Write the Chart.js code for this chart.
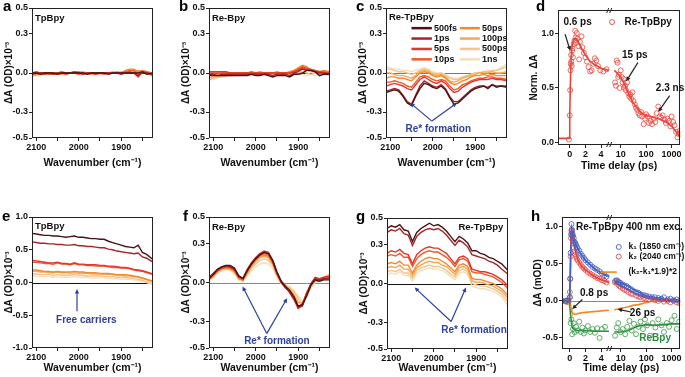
<!DOCTYPE html>
<html>
<head>
<meta charset="utf-8">
<script src="https://cdn.jsdelivr.net/npm/chart.js@4.4.1/dist/chart.umd.min.js"></script>
<style>
  body { margin: 0; background: #fff; }
  #fig { position: relative; width: 685px; height: 377px; overflow: hidden; font-family: 'Liberation Sans', Arial, sans-serif; }
  #fig canvas { position: absolute; }
  .tag { position: absolute; font-weight: bold; font-size: 15px; line-height: 15px; color: #000; }
</style>
</head>
<body>
<div id="fig">
  <canvas id="chartA" width="160" height="172" style="left:0;top:0"></canvas>
  <canvas id="chartB" width="160" height="172" style="left:177px;top:0"></canvas>
  <canvas id="chartC" width="160" height="172" style="left:354px;top:0"></canvas>
  <canvas id="chartD" width="160" height="175" style="left:525px;top:0"></canvas>
  <canvas id="chartE" width="160" height="168" style="left:0;top:209px"></canvas>
  <canvas id="chartF" width="160" height="168" style="left:177px;top:209px"></canvas>
  <canvas id="chartG" width="160" height="167" style="left:355px;top:210px"></canvas>
  <canvas id="chartH" width="156" height="168" style="left:529px;top:209px"></canvas>
  <div class="tag" style="left:3px;top:-2px">a</div>
  <div class="tag" style="left:179px;top:-2px">b</div>
  <div class="tag" style="left:356px;top:-2px">c</div>
  <div class="tag" style="left:536px;top:-2px">d</div>
  <div class="tag" style="left:2px;top:208px">e</div>
  <div class="tag" style="left:183px;top:208px">f</div>
  <div class="tag" style="left:356px;top:208px">g</div>
  <div class="tag" style="left:531px;top:208px">h</div>
</div>
<script>
// ---- spectra (panels a, b, c, e, f, g) ----
const wavenumbers = [2110, 2100, 2090, 2080, 2070, 2060, 2050, 2040, 2030, 2020, 2010, 2000, 1990, 1980, 1970,
  1960, 1950, 1940, 1930, 1920, 1910, 1900, 1890, 1880, 1870, 1860, 1850, 1840, 1825];
const wavenumberTicks = [2100, 2050, 2000, 1950, 1900, 1850];
const delays = ['500fs', '1ps', '5ps', '10ps', '50ps', '100ps', '500ps', '1ns'];
const delayColors = ['#4a1315', '#a3262b', '#e5342d', '#f05a28', '#f5892a', '#f7a752', '#f2c48e', '#f6dfb6'];

const tpBpyVisible = [
  [0.00, 0.00, -0.01, 0.00, 0.00, 0.00, -0.01, 0.00, 0.00, 0.00, 0.00, 0.00, 0.00, -0.01, 0.00, 0.00, 0.00, 0.00, -0.01, 0.00, 0.00, 0.00, 0.00, 0.00, 0.00, 0.00, 0.01, -0.01, 0.00],
  [-0.01, 0.00, 0.00, 0.00, 0.00, -0.01, 0.00, 0.00, 0.00, 0.00, 0.00, 0.00, -0.01, 0.00, 0.00, 0.00, 0.00, 0.00, 0.00, 0.00, 0.00, -0.01, 0.00, 0.00, 0.00, -0.02, 0.00, 0.00, -0.01],
  [0.00, 0.01, 0.00, -0.01, 0.00, 0.00, 0.00, 0.00, -0.01, 0.00, 0.01, 0.00, 0.00, 0.00, 0.00, -0.01, 0.00, 0.00, 0.00, 0.00, 0.00, 0.00, 0.00, 0.01, 0.00, -0.03, 0.01, 0.00, -0.01],
  [-0.01, 0.00, 0.00, 0.00, -0.01, 0.00, 0.00, 0.01, 0.00, 0.00, 0.00, -0.01, 0.00, 0.00, 0.00, 0.00, 0.00, -0.01, 0.00, 0.00, 0.00, 0.00, 0.01, 0.02, 0.02, -0.01, 0.01, 0.01, -0.02],
  [0.00, -0.01, 0.00, 0.00, 0.00, 0.00, -0.01, 0.00, 0.00, 0.00, 0.01, 0.01, 0.00, 0.00, -0.01, 0.00, 0.00, 0.00, 0.00, 0.00, 0.01, 0.00, 0.02, 0.03, 0.03, 0.01, 0.02, 0.01, 0.00],
  [-0.02, -0.01, -0.01, 0.00, -0.01, -0.01, 0.00, -0.01, 0.00, 0.00, 0.01, 0.00, 0.01, 0.00, 0.00, -0.01, 0.00, 0.00, 0.00, 0.01, 0.00, 0.01, 0.00, 0.02, 0.01, 0.02, 0.01, 0.00, -0.02],
  [-0.02, -0.02, -0.01, -0.01, -0.01, 0.00, -0.01, 0.00, -0.01, 0.00, 0.00, 0.01, 0.00, 0.00, -0.01, 0.00, -0.01, 0.00, 0.00, 0.00, 0.00, 0.00, 0.01, 0.01, 0.00, 0.01, 0.02, 0.01, -0.02],
  [-0.03, -0.02, -0.02, -0.01, -0.01, -0.01, -0.01, 0.00, -0.01, 0.00, 0.00, 0.00, 0.00, -0.01, 0.00, 0.00, -0.01, 0.00, 0.00, 0.00, 0.00, 0.00, 0.00, 0.00, 0.01, 0.00, 0.01, 0.00, -0.03]
];
const reBpyVisible = [
  [-0.02, -0.02, -0.02, -0.02, -0.02, -0.02, -0.02, -0.02, -0.02, -0.02, -0.01, -0.02, -0.02, -0.01, -0.02, -0.03, -0.02, -0.02, -0.02, -0.03, -0.01, -0.01, 0.00, 0.02, 0.02, 0.01, -0.02, -0.01, -0.01],
  [-0.01, -0.01, -0.02, -0.01, -0.01, -0.01, -0.01, -0.01, -0.01, -0.01, -0.01, -0.01, -0.01, -0.01, -0.01, -0.02, -0.01, -0.01, -0.01, -0.02, 0.00, 0.01, 0.03, 0.02, 0.02, 0.01, 0.00, 0.00, -0.01],
  [0.01, 0.01, 0.01, 0.01, 0.01, 0.00, 0.00, 0.00, 0.00, 0.00, 0.00, 0.00, 0.00, 0.00, 0.00, 0.00, 0.00, 0.00, 0.00, 0.00, 0.01, 0.02, 0.04, 0.03, 0.02, 0.01, 0.01, 0.00, 0.00],
  [0.00, 0.00, 0.00, 0.00, 0.00, 0.00, 0.00, 0.00, 0.00, 0.00, 0.01, 0.00, 0.00, 0.00, 0.00, 0.00, 0.00, 0.00, 0.00, 0.00, 0.01, 0.03, 0.05, 0.04, 0.03, 0.02, 0.01, 0.01, 0.00],
  [-0.02, -0.01, -0.01, 0.00, 0.00, 0.00, 0.00, 0.00, 0.00, 0.00, 0.00, 0.00, 0.01, 0.00, 0.00, 0.00, 0.01, 0.00, 0.00, 0.01, 0.02, 0.04, 0.06, 0.05, 0.02, 0.02, 0.01, 0.02, 0.01],
  [-0.04, -0.03, -0.03, -0.02, -0.02, -0.01, -0.01, -0.01, -0.01, 0.00, 0.00, 0.00, 0.00, 0.00, 0.00, 0.00, 0.00, 0.00, 0.00, 0.00, 0.01, 0.02, 0.03, 0.02, 0.01, 0.01, 0.00, 0.01, 0.00],
  [-0.05, -0.04, -0.03, -0.03, -0.02, -0.02, -0.02, -0.01, -0.01, -0.01, -0.01, -0.01, 0.00, -0.01, 0.00, -0.01, 0.00, -0.01, 0.00, -0.01, 0.00, 0.00, 0.01, 0.00, -0.01, 0.00, -0.01, 0.00, -0.01],
  [-0.05, -0.05, -0.04, -0.03, -0.03, -0.02, -0.02, -0.02, -0.01, -0.01, -0.01, -0.01, -0.01, -0.01, -0.01, -0.01, -0.01, -0.01, -0.01, -0.01, -0.01, -0.01, -0.01, -0.02, -0.01, -0.02, -0.01, -0.01, -0.02]
];
const reTpBpyVisible = [
  [-0.15, -0.14, -0.13, -0.14, -0.18, -0.23, -0.25, -0.18, -0.12, -0.08, -0.09, -0.11, -0.12, -0.10, -0.13, -0.19, -0.24, -0.23, -0.20, -0.17, -0.14, -0.12, -0.11, -0.10, -0.12, -0.09, -0.11, -0.10, -0.11],
  [-0.14, -0.13, -0.12, -0.13, -0.17, -0.22, -0.24, -0.17, -0.10, -0.06, -0.08, -0.10, -0.11, -0.09, -0.12, -0.18, -0.22, -0.22, -0.19, -0.16, -0.13, -0.11, -0.10, -0.10, -0.11, -0.09, -0.10, -0.10, -0.10],
  [-0.10, -0.09, -0.08, -0.09, -0.10, -0.12, -0.13, -0.09, -0.05, -0.03, -0.05, -0.07, -0.08, -0.06, -0.08, -0.12, -0.15, -0.14, -0.11, -0.09, -0.07, -0.06, -0.05, -0.05, -0.05, -0.04, -0.05, -0.05, -0.06],
  [-0.07, -0.07, -0.06, -0.07, -0.08, -0.10, -0.11, -0.07, -0.03, -0.02, -0.03, -0.05, -0.06, -0.05, -0.06, -0.10, -0.13, -0.12, -0.09, -0.08, -0.06, -0.05, -0.04, -0.04, -0.03, -0.03, -0.04, -0.04, -0.05],
  [-0.04, -0.03, -0.03, -0.04, -0.04, -0.05, -0.06, -0.03, 0.00, 0.01, 0.00, -0.02, -0.03, -0.02, -0.04, -0.07, -0.09, -0.08, -0.06, -0.05, -0.03, -0.02, -0.02, -0.01, -0.02, -0.01, -0.02, -0.02, -0.02],
  [0.00, 0.00, -0.01, -0.02, -0.02, -0.03, -0.04, -0.02, 0.01, 0.02, 0.01, -0.01, -0.02, -0.01, -0.03, -0.06, -0.07, -0.06, -0.04, -0.03, -0.02, -0.01, 0.00, 0.00, 0.00, 0.01, 0.00, 0.00, 0.01],
  [0.03, 0.03, 0.02, 0.01, 0.01, 0.00, -0.01, 0.00, 0.02, 0.03, 0.02, 0.00, -0.01, 0.00, -0.02, -0.04, -0.05, -0.05, -0.03, -0.02, -0.01, 0.00, 0.00, 0.01, 0.01, 0.02, 0.02, 0.03, 0.05],
  [0.05, 0.04, 0.03, 0.03, 0.02, 0.02, 0.01, 0.02, 0.03, 0.04, 0.03, 0.01, 0.00, 0.00, -0.01, -0.03, -0.04, -0.04, -0.03, -0.03, -0.01, 0.00, 0.00, 0.01, 0.02, 0.01, 0.02, 0.04, 0.07]
];
const tpBpyIR = [
  [0.75, 0.74, 0.73, 0.72, 0.72, 0.71, 0.71, 0.70, 0.69, 0.70, 0.71, 0.69, 0.69, 0.68, 0.67, 0.67, 0.66, 0.66, 0.63, 0.61, 0.59, 0.57, 0.55, 0.54, 0.53, 0.57, 0.46, 0.43, 0.35],
  [0.62, 0.61, 0.60, 0.60, 0.59, 0.59, 0.58, 0.58, 0.57, 0.57, 0.58, 0.56, 0.56, 0.55, 0.55, 0.54, 0.53, 0.53, 0.51, 0.50, 0.48, 0.47, 0.46, 0.45, 0.44, 0.45, 0.39, 0.37, 0.31],
  [0.34, 0.33, 0.32, 0.31, 0.30, 0.30, 0.31, 0.29, 0.29, 0.28, 0.30, 0.28, 0.28, 0.27, 0.27, 0.27, 0.26, 0.26, 0.25, 0.25, 0.24, 0.23, 0.23, 0.22, 0.20, 0.19, 0.18, 0.16, 0.13],
  [0.31, 0.31, 0.30, 0.29, 0.29, 0.28, 0.30, 0.28, 0.28, 0.27, 0.29, 0.27, 0.27, 0.26, 0.26, 0.25, 0.25, 0.25, 0.24, 0.23, 0.23, 0.22, 0.22, 0.21, 0.19, 0.18, 0.17, 0.15, 0.12],
  [0.19, 0.19, 0.18, 0.17, 0.17, 0.16, 0.17, 0.16, 0.16, 0.16, 0.17, 0.16, 0.16, 0.15, 0.15, 0.15, 0.14, 0.14, 0.14, 0.13, 0.12, 0.12, 0.12, 0.11, 0.10, 0.09, 0.07, 0.05, 0.02],
  [0.17, 0.17, 0.16, 0.16, 0.15, 0.15, 0.16, 0.15, 0.15, 0.14, 0.15, 0.14, 0.14, 0.14, 0.13, 0.13, 0.13, 0.12, 0.12, 0.12, 0.11, 0.11, 0.10, 0.10, 0.09, 0.08, 0.06, 0.04, 0.01],
  [0.13, 0.13, 0.12, 0.12, 0.12, 0.11, 0.12, 0.11, 0.11, 0.11, 0.12, 0.11, 0.11, 0.10, 0.10, 0.10, 0.10, 0.09, 0.09, 0.09, 0.08, 0.08, 0.08, 0.07, 0.06, 0.05, 0.03, 0.01, -0.02],
  [0.10, 0.10, 0.09, 0.09, 0.09, 0.08, 0.09, 0.08, 0.08, 0.08, 0.09, 0.08, 0.08, 0.08, 0.07, 0.07, 0.07, 0.07, 0.06, 0.06, 0.06, 0.05, 0.05, 0.05, 0.04, 0.03, 0.02, 0.00, -0.03]
];
const reBpyIR = [
  [0.03, 0.06, 0.10, 0.12, 0.13, 0.13, 0.11, 0.05, 0.03, 0.09, 0.14, 0.18, 0.21, 0.23, 0.22, 0.17, 0.08, 0.01, -0.03, -0.06, -0.11, -0.18, -0.17, -0.10, -0.02, 0.02, 0.01, 0.02, 0.02],
  [0.04, 0.07, 0.10, 0.12, 0.13, 0.12, 0.10, 0.05, 0.03, 0.10, 0.15, 0.19, 0.22, 0.23, 0.22, 0.16, 0.07, 0.00, -0.04, -0.07, -0.12, -0.19, -0.18, -0.09, -0.01, 0.03, 0.02, 0.03, 0.03],
  [0.03, 0.06, 0.09, 0.11, 0.12, 0.12, 0.10, 0.04, 0.03, 0.09, 0.15, 0.19, 0.22, 0.24, 0.23, 0.17, 0.08, 0.01, -0.03, -0.08, -0.13, -0.20, -0.17, -0.08, -0.01, 0.04, 0.03, 0.04, 0.05],
  [0.03, 0.06, 0.09, 0.11, 0.12, 0.11, 0.09, 0.04, 0.02, 0.08, 0.14, 0.18, 0.21, 0.22, 0.21, 0.16, 0.07, 0.00, -0.04, -0.07, -0.12, -0.19, -0.16, -0.08, -0.02, 0.03, 0.02, 0.03, 0.04],
  [0.02, 0.05, 0.09, 0.11, 0.11, 0.11, 0.09, 0.03, 0.02, 0.08, 0.13, 0.17, 0.20, 0.21, 0.20, 0.15, 0.07, 0.01, -0.02, -0.06, -0.10, -0.18, -0.17, -0.09, -0.02, 0.02, 0.02, 0.03, 0.04],
  [0.02, 0.05, 0.08, 0.10, 0.11, 0.10, 0.08, 0.03, 0.02, 0.07, 0.12, 0.16, 0.19, 0.20, 0.19, 0.14, 0.06, 0.00, -0.03, -0.05, -0.09, -0.15, -0.16, -0.10, -0.03, 0.01, 0.01, 0.02, 0.05],
  [0.02, 0.04, 0.08, 0.10, 0.10, 0.10, 0.08, 0.03, 0.01, 0.06, 0.11, 0.14, 0.17, 0.18, 0.17, 0.13, 0.05, 0.00, -0.02, -0.04, -0.07, -0.12, -0.17, -0.11, -0.03, 0.01, 0.02, 0.04, 0.06],
  [0.01, 0.04, 0.07, 0.09, 0.10, 0.09, 0.07, 0.02, 0.01, 0.05, 0.09, 0.12, 0.14, 0.15, 0.14, 0.11, 0.04, -0.01, -0.03, -0.03, -0.06, -0.10, -0.14, -0.12, -0.04, 0.00, 0.02, 0.04, 0.07]
];
const reTpBpyIR = [
  [0.42, 0.44, 0.43, 0.45, 0.41, 0.40, 0.32, 0.39, 0.42, 0.44, 0.46, 0.44, 0.45, 0.43, 0.40, 0.36, 0.32, 0.36, 0.34, 0.31, 0.25, 0.25, 0.23, 0.22, 0.20, 0.19, 0.17, 0.15, 0.10],
  [0.39, 0.41, 0.40, 0.42, 0.38, 0.37, 0.29, 0.36, 0.39, 0.41, 0.42, 0.41, 0.42, 0.40, 0.37, 0.33, 0.29, 0.33, 0.31, 0.28, 0.22, 0.21, 0.20, 0.19, 0.17, 0.16, 0.14, 0.11, 0.07],
  [0.23, 0.25, 0.24, 0.26, 0.23, 0.22, 0.15, 0.22, 0.25, 0.27, 0.28, 0.27, 0.27, 0.25, 0.23, 0.19, 0.15, 0.20, 0.21, 0.19, 0.11, 0.10, 0.09, 0.09, 0.08, 0.07, 0.05, 0.03, -0.02],
  [0.21, 0.22, 0.21, 0.23, 0.20, 0.20, 0.13, 0.19, 0.22, 0.24, 0.25, 0.24, 0.24, 0.22, 0.20, 0.17, 0.13, 0.18, 0.19, 0.17, 0.09, 0.08, 0.08, 0.07, 0.06, 0.05, 0.03, 0.01, -0.04],
  [0.15, 0.16, 0.15, 0.17, 0.14, 0.14, 0.08, 0.14, 0.17, 0.19, 0.20, 0.19, 0.19, 0.17, 0.15, 0.12, 0.09, 0.14, 0.15, 0.13, 0.04, 0.03, 0.03, 0.02, 0.01, 0.00, -0.02, -0.04, -0.09],
  [0.12, 0.13, 0.12, 0.14, 0.11, 0.11, 0.06, 0.12, 0.14, 0.16, 0.17, 0.16, 0.16, 0.14, 0.13, 0.10, 0.07, 0.12, 0.13, 0.11, 0.02, 0.01, 0.01, 0.00, -0.01, -0.02, -0.04, -0.06, -0.11],
  [0.09, 0.10, 0.09, 0.11, 0.08, 0.08, 0.04, 0.10, 0.12, 0.13, 0.14, 0.13, 0.13, 0.12, 0.10, 0.07, 0.05, 0.10, 0.11, 0.09, 0.00, -0.01, -0.02, -0.02, -0.03, -0.04, -0.06, -0.08, -0.14],
  [0.07, 0.08, 0.07, 0.09, 0.06, 0.06, 0.02, 0.08, 0.10, 0.11, 0.12, 0.11, 0.11, 0.10, 0.08, 0.05, 0.03, 0.08, 0.09, 0.07, -0.02, -0.03, -0.04, -0.04, -0.05, -0.06, -0.08, -0.10, -0.17]
];

// ---- kinetics (panels d, h) ----
const delayTicks = [0, 2, 4, 10, 100, 1000];

const dDelay = [-0.1, 0, 0.05, 0.1, 0.13, 0.17, 0.2, 0.25, 0.3, 0.35, 0.4, 0.5, 0.6, 0.7, 0.75, 0.8, 0.9, 1.0, 1.1, 1.2,
  1.3, 1.5, 1.6, 1.8, 2.0, 2.2, 2.4, 2.6, 2.8, 3.0, 3.2, 3.4, 3.6, 3.9, 4.3, 4.7,
  6, 6.5, 7, 7.5, 8, 8.5, 9, 10, 11, 12, 13, 14, 15, 16, 18, 20, 22, 24, 26, 29, 32, 36, 40, 45, 50, 56, 63, 70, 80, 90,
  100, 115, 130, 150, 170, 200, 230, 260, 300, 340, 390, 450, 520, 600, 700, 800, 900, 1000, 1150, 1300, 1500, 1700, 1900, 2100];
const dNorm = [0.03, 0.25, 0.48, 0.66, 0.72, 0.8, 0.74, 0.7, 0.84, 0.86, 0.78, 0.9, 0.93, 1.02, 0.96, 0.91, 1.0, 0.95, 0.88, 0.76,
  0.92, 0.97, 0.87, 0.82, 0.78, 0.74, 0.69, 0.65, 0.66, 0.72, 0.77, 0.75, 0.7, 0.66, 0.65, 0.67,
  0.55, 0.52, 0.75, 0.73, 0.6, 0.62, 0.5, 0.66, 0.6, 0.55, 0.58, 0.5, 0.52, 0.48, 0.55, 0.45, 0.42, 0.44, 0.4, 0.46, 0.38, 0.35, 0.32, 0.3, 0.27, 0.25, 0.28, 0.24, 0.17, 0.22,
  0.26, 0.24, 0.18, 0.2, 0.17, 0.22, 0.19, 0.27, 0.33, 0.24, 0.23, 0.25, 0.21, 0.18, 0.22, 0.2, 0.15, 0.24, 0.19, 0.16, 0.1, 0.05, 0.08, 0.11];
const dFitDelay = [-1.5, -0.05, 0, 0.1, 0.2, 0.3, 0.45, 0.6, 0.8, 1.0, 1.3, 1.6, 2, 2.5, 3, 3.5, 4, 4.5, 5,
  5.6, 7, 10, 15, 20, 30, 50, 70, 100, 150, 200, 300, 500, 700, 1000, 1500, 2200];
const dFit = [0.04, 0.04, 0.25, 0.6, 0.8, 0.88, 0.93, 0.95, 0.95, 0.93, 0.89, 0.85, 0.8, 0.75, 0.72, 0.7, 0.68, 0.67, 0.66,
  0.66, 0.64, 0.6, 0.52, 0.45, 0.37, 0.3, 0.27, 0.25, 0.24, 0.23, 0.22, 0.2, 0.18, 0.15, 0.1, 0.05];

const hDelay = [-1, -0.5, -0.2, 0, 0.05, 0.1, 0.15, 0.2, 0.25, 0.3, 0.35, 0.4, 0.5, 0.6, 0.7, 0.8, 0.9, 1.0, 1.2, 1.4,
  1.6, 1.8, 2.0, 2.3, 2.6, 2.9, 3.2, 3.5, 3.8, 4.1, 4.4, 4.7, 6, 7, 8, 9, 10, 12, 14, 17,
  20, 25, 30, 40, 50, 60, 80, 100, 130, 170, 220, 300, 400, 500, 700, 900, 1200, 1600, 2000];
const hK1 = [0.0, 0.0, 0.01, 0.05, 0.3, 0.65, 0.9, 1.04, 0.97, 0.95, 0.9, 0.88, 0.85, 0.8, 0.78, 0.76, 0.73, 0.71, 0.68, 0.64,
  0.61, 0.58, 0.55, 0.52, 0.49, 0.46, 0.44, 0.42, 0.4, 0.37, 0.35, 0.33, 0.27, 0.28, 0.26, 0.25, 0.24, 0.22, 0.21, 0.2,
  0.18, 0.16, 0.14, 0.12, 0.11, 0.09, 0.08, 0.07, 0.06, 0.05, 0.05, 0.04, 0.03, 0.05, 0.02, 0.03, 0.01, 0.02, 0.0];
const hK2 = [0.0, -0.01, 0.0, 0.05, 0.3, 0.6, 0.85, 0.95, 0.92, 0.88, 0.82, 0.78, 0.72, 0.67, 0.63, 0.6, 0.57, 0.55, 0.52, 0.49,
  0.46, 0.44, 0.42, 0.39, 0.37, 0.35, 0.33, 0.31, 0.3, 0.28, 0.27, 0.25, 0.25, 0.27, 0.22, 0.2, 0.19, 0.17, 0.15, 0.14,
  0.12, 0.1, 0.09, 0.07, 0.06, 0.05, 0.04, 0.03, 0.02, 0.03, 0.01, 0.0, 0.02, -0.01, 0.0, -0.02, 0.0, -0.02, -0.03];
const hFitDelay = [-1, -0.05, 0.05, 0.15, 0.25, 0.4, 0.6, 0.8, 1.0, 1.5, 2, 2.5, 3, 3.5, 4, 4.5, 5,
  5.6, 8, 10, 15, 20, 30, 50, 100, 200, 500, 1000, 2200];
const hK1Fit = [0, 0, 0.3, 0.9, 0.97, 0.9, 0.82, 0.76, 0.71, 0.62, 0.55, 0.5, 0.45, 0.41, 0.38, 0.35, 0.33,
  0.27, 0.26, 0.25, 0.22, 0.2, 0.16, 0.12, 0.07, 0.05, 0.03, 0.02, 0.01];
const hK2Fit = [0, 0, 0.28, 0.85, 0.92, 0.84, 0.72, 0.63, 0.56, 0.47, 0.42, 0.38, 0.34, 0.31, 0.29, 0.27, 0.25,
  0.24, 0.22, 0.2, 0.17, 0.15, 0.12, 0.08, 0.05, 0.03, 0.01, 0.0, -0.01];
const hDiffFit = [0, 0, -0.03, -0.1, -0.14, -0.17, -0.18, -0.18, -0.17, -0.16, -0.155, -0.15, -0.145, -0.14, -0.135, -0.13, -0.125,
  -0.12, -0.11, -0.1, -0.09, -0.08, -0.06, -0.05, -0.02, 0.0, 0.01, 0.0, -0.01];
const hReBpyDelay = [-1, -0.5, -0.2, 0, 0.1, 0.2, 0.3, 0.4, 0.5, 0.6, 0.8, 1.0, 1.2, 1.4, 1.6, 1.8, 2.0, 2.3, 2.6, 2.9,
  3.2, 3.5, 3.8, 4.1, 4.5, 6, 7, 8, 10, 12, 15, 18, 22, 27, 33, 40, 50, 60, 75, 90,
  110, 140, 180, 230, 300, 400, 500, 650, 800, 1000, 1300, 1600, 2000];
const hReBpy = [0.0, 0.0, -0.02, 0.12, -0.3, -0.25, -0.45, -0.38, -0.3, -0.42, -0.35, -0.4, -0.28, -0.42, -0.36, -0.44, -0.4, -0.34, -0.42, -0.38,
  -0.43, -0.37, -0.5, -0.38, -0.35, -0.47, -0.36, -0.3, -0.42, -0.38, -0.45, -0.35, -0.27, -0.4, -0.31, -0.45, -0.35, -0.28, -0.38, -0.25,
  -0.33, -0.47, -0.3, -0.36, -0.25, -0.33, -0.42, -0.3, -0.35, -0.26, -0.2, -0.38, -0.28];
const hReBpyFitDelay = [-1, -0.05, 0.1, 0.3, 0.6, 1, 2, 3, 4, 5, 5.6, 8, 10, 15, 20, 30, 50, 100, 200, 500, 1000, 2200];
const hReBpyFit = [0, 0, -0.2, -0.36, -0.39, -0.4, -0.4, -0.41, -0.41, -0.41, -0.42, -0.42, -0.42, -0.41, -0.4, -0.37, -0.34, -0.32, -0.33, -0.32, -0.31, -0.31];

// ---- drawing ----
Chart.defaults.font.family = "'Liberation Sans', Arial, Helvetica, sans-serif";
Chart.defaults.font.size = 9;
Chart.defaults.font.weight = 'bold';
Chart.defaults.color = '#111';

const INK = '#222';
const BLUE = '#2f3f9f';
const BREAK = 5.1;

// broken time axis: linear up to 5 ps, log10 afterwards
const toAxis = t => (t <= 5 ? t : 6.5 + (Math.log10(t) - 1) * 3.25);

function arrow(ctx, x1, y1, x2, y2, color) {
	const ang = Math.atan2(y2 - y1, x2 - x1);
	const h = 5;
	ctx.strokeStyle = color;
	ctx.fillStyle = color;
	ctx.lineWidth = 1.2;
	ctx.beginPath();
	ctx.moveTo(x1, y1);
	ctx.lineTo(x2 - h * 0.7 * Math.cos(ang), y2 - h * 0.7 * Math.sin(ang));
	ctx.stroke();
	ctx.beginPath();
	ctx.moveTo(x2, y2);
	ctx.lineTo(x2 - h * Math.cos(ang - 0.45), y2 - h * Math.sin(ang - 0.45));
	ctx.lineTo(x2 - h * Math.cos(ang + 0.45), y2 - h * Math.sin(ang + 0.45));
	ctx.closePath();
	ctx.fill();
}

// frame, zero line, axis break and annotations for one panel
function decor(cfg) {
	return {
		id: 'decor',
		beforeDatasetsDraw(chart) {
			if (!cfg.zero) return;
			const {ctx, chartArea: a} = chart;
			const y0 = Math.round(chart.scales.y.getPixelForValue(0)) + 0.5;
			ctx.save();
			ctx.strokeStyle = cfg.zero;
			ctx.lineWidth = 1;
			ctx.beginPath();
			ctx.moveTo(a.left, y0);
			ctx.lineTo(a.right, y0);
			ctx.stroke();
			ctx.restore();
		},
		afterDatasetsDraw(chart) {
			const {ctx} = chart;
			const px = v => chart.scales.x.getPixelForValue(v);
			const py = v => chart.scales.y.getPixelForValue(v);
			ctx.save();
			(cfg.arrows || []).forEach(a => arrow(ctx, px(a[0]), py(a[1]), px(a[2]), py(a[3]), a[4] || INK));
			(cfg.keys || []).forEach(k => {
				ctx.strokeStyle = k.color;
				if (k.marker === 'circle') {
					ctx.lineWidth = 0.9;
					ctx.beginPath();
					ctx.arc(px(k.x1), py(k.y), 2.5, 0, Math.PI * 2);
					ctx.stroke();
				} else {
					ctx.lineWidth = k.width || 2.5;
					ctx.beginPath();
					ctx.moveTo(px(k.x1), py(k.y));
					ctx.lineTo(px(k.x2), py(k.y));
					ctx.stroke();
				}
				ctx.fillStyle = '#111';
				ctx.font = 'bold ' + (k.size || 9) + "px 'Liberation Sans', Arial, sans-serif";
				ctx.textAlign = 'left';
				ctx.textBaseline = 'middle';
				ctx.fillText(k.text, px(k.tx), py(k.y));
			});
			(cfg.texts || []).forEach(t => {
				ctx.fillStyle = t.color || '#111';
				ctx.font = 'bold ' + (t.size || 9) + "px 'Liberation Sans', Arial, sans-serif";
				ctx.textAlign = t.align || 'center';
				ctx.textBaseline = 'middle';
				ctx.fillText(t.text, px(t.x), py(t.y));
			});
			ctx.restore();
		},
		afterDraw(chart) {
			const {ctx, chartArea: a} = chart;
			const l = Math.round(a.left) + 0.5, t = Math.round(a.top) + 0.5;
			const r = Math.round(a.right) - 0.5, b = Math.round(a.bottom) - 0.5;
			ctx.save();
			ctx.strokeStyle = INK;
			ctx.lineWidth = 1;
			ctx.strokeRect(l, t, r - l, b - t);
			if (cfg.breakAt !== undefined) {
				const xb = chart.scales.x.getPixelForValue(cfg.breakAt);
				[t, b].forEach(yb => {
					ctx.beginPath();
					ctx.moveTo(xb - 3, yb + 2.5);
					ctx.lineTo(xb - 1, yb - 2.5);
					ctx.moveTo(xb, yb + 2.5);
					ctx.lineTo(xb + 2, yb - 2.5);
					ctx.stroke();
				});
			}
			ctx.restore();
		}
	};
}

const tickGrid = {drawOnChartArea: false, drawTicks: true, tickLength: 3, color: INK};

function valueScale(min, max, ticks, title, width) {
	return {
		min: min,
		max: max,
		afterBuildTicks: ax => { ax.ticks = ticks.map(v => ({value: v})); },
		afterFit: ax => { ax.width = width; },
		grid: tickGrid,
		border: {display: false},
		ticks: {autoSkip: false, padding: 1, callback: v => v.toFixed(1)},
		title: {display: true, text: title, font: {size: 10}, padding: {top: 3, bottom: 0}}
	};
}

function wavenumberScale(height) {
	return {
		type: 'linear',
		reverse: true,
		min: 1825,
		max: 2110,
		afterBuildTicks: ax => { ax.ticks = wavenumberTicks.map(v => ({value: v})); },
		afterFit: ax => { ax.height = height; },
		grid: tickGrid,
		border: {display: false},
		ticks: {autoSkip: false, maxRotation: 0, padding: 1, callback: v => (v % 100 === 0 ? String(v) : '')},
		title: {display: true, text: 'Wavenumber (cm⁻¹)', font: {size: 10.5}, padding: {top: 0, bottom: 3}}
	};
}

function delayScale(min, height) {
	return {
		type: 'linear',
		min: min,
		max: 14.1,
		afterBuildTicks: ax => { ax.ticks = delayTicks.map(t => ({value: toAxis(t)})); },
		afterFit: ax => { ax.height = height; },
		grid: tickGrid,
		border: {display: false},
		ticks: {autoSkip: false, maxRotation: 0, padding: 1, callback: (v, i) => String(delayTicks[i])},
		title: {display: true, text: 'Time delay (ps)', font: {size: 10.5}, padding: {top: 0, bottom: 3}}
	};
}

function spectrumChart(id, series, cfg) {
	const datasets = series.map((vals, i) => ({
		label: delays[i],
		data: wavenumbers.map((w, j) => ({x: w, y: vals[j]})),
		showLine: true,
		borderColor: delayColors[i],
		borderWidth: 1.4,
		pointRadius: 0
	}));
	return new Chart(document.getElementById(id), {
		type: 'scatter',
		data: {datasets: datasets},
		options: {
			responsive: false,
			animation: false,
			events: [],
			layout: {padding: {top: 8, right: 7, left: 0, bottom: 0}},
			plugins: {legend: {display: false}, tooltip: {enabled: false}},
			scales: {
				x: wavenumberScale(cfg.xHeight),
				y: valueScale(cfg.min, cfg.max, cfg.ticks, 'ΔA (OD)×10⁻³', 32)
			}
		},
		plugins: [decor(cfg)]
	});
}

function points(ts, vs, color) {
	return {
		data: ts.map((t, i) => ({x: toAxis(t), y: vs[i]})),
		showLine: false,
		pointRadius: 2.5,
		pointBorderWidth: 0.8,
		pointBorderColor: color,
		pointBackgroundColor: 'rgba(0,0,0,0)'
	};
}

// fit curves are drawn in two pieces, one each side of the axis break
function fitLines(ts, vs, color) {
	const piece = keep => ({
		data: ts.map((t, i) => ({x: toAxis(t), y: vs[i], t: t})).filter(p => keep(p.t)),
		showLine: true,
		borderColor: color,
		borderWidth: 1.6,
		pointRadius: 0
	});
	return [piece(t => t <= 5), piece(t => t > 5)];
}

function kineticChart(id, datasets, cfg) {
	return new Chart(document.getElementById(id), {
		type: 'scatter',
		data: {datasets: datasets},
		options: {
			responsive: false,
			animation: false,
			events: [],
			layout: {padding: {top: cfg.padTop, right: 2, left: 0, bottom: 0}},
			plugins: {legend: {display: false}, tooltip: {enabled: false}},
			scales: {
				x: delayScale(cfg.xMin, cfg.xHeight),
				y: valueScale(cfg.min, cfg.max, cfg.ticks, cfg.title, 33)
			}
		},
		plugins: [decor(cfg)]
	});
}

const smallTicks = [-0.5, -0.3, 0, 0.3, 0.5];

spectrumChart('chartA', tpBpyVisible, {
	min: -0.5, max: 0.5, ticks: smallTicks, xHeight: 34, zero: '#111',
	texts: [{text: 'TpBpy', x: 2103, y: 0.42, align: 'left', size: 9.5}]
});

spectrumChart('chartB', reBpyVisible, {
	min: -0.5, max: 0.5, ticks: smallTicks, xHeight: 34, zero: '#111',
	texts: [{text: 'Re-Bpy', x: 2103, y: 0.42, align: 'left', size: 9.5}]
});

const legendCols = [[2050, 2002, 1997], [1936, 1889, 1884]];
const legendRows = [0.345, 0.265, 0.185, 0.105];
spectrumChart('chartC', reTpBpyVisible, {
	min: -0.5, max: 0.5, ticks: smallTicks, xHeight: 34, zero: '#777',
	keys: delays.map((d, i) => {
		const col = legendCols[Math.floor(i / 4)];
		return {x1: col[0], x2: col[1], tx: col[2], y: legendRows[i % 4], color: delayColors[i], text: d};
	}),
	arrows: [[2002, -0.37, 2053, -0.23, BLUE], [2002, -0.37, 1943, -0.23, BLUE]],
	texts: [
		{text: 'Re-TpBpy', x: 2103, y: 0.43, align: 'left', size: 9.5},
		{text: 'Re* formation', x: 1987, y: -0.43, color: BLUE, size: 10}
	]
});

kineticChart('chartD', [
	points(dDelay, dNorm, '#e8443a'),
	...fitLines(dFitDelay, dFit, '#e8443a')
], {
	min: -0.02, max: 1.21, ticks: [0, 0.5, 1], title: 'Norm. ΔA', xMin: -1.5, xHeight: 30, padTop: 10,
	breakAt: BREAK,
	keys: [{marker: 'circle', x1: 5.4, tx: 7.0, y: 1.1, color: '#e8443a', text: 'Re-TpBpy', size: 10}],
	arrows: [[-0.6, 0.99, 0.05, 0.84], [8.7, 0.73, 7.2, 0.56], [12.75, 0.43, 11.3, 0.28]],
	texts: [
		{text: '0.6 ps', x: 1.0, y: 1.1, size: 10},
		{text: '15 ps', x: 8.3, y: 0.8, size: 10},
		{text: '2.3 ns', x: 12.8, y: 0.5, size: 10}
	]
});

spectrumChart('chartE', tpBpyIR, {
	min: -1, max: 1, ticks: [-1, -0.5, 0, 0.5, 1], xHeight: 29, zero: '#111',
	arrows: [[2004, -0.44, 2004, -0.1, BLUE]],
	texts: [
		{text: 'TpBpy', x: 2103, y: 0.86, align: 'left', size: 9.5},
		{text: 'Free carriers', x: 1982, y: -0.57, color: BLUE, size: 10}
	]
});

spectrumChart('chartF', reBpyIR, {
	min: -0.5, max: 0.5, ticks: smallTicks, xHeight: 29, zero: '#888',
	arrows: [[1974, -0.39, 2031, -0.03, BLUE], [1974, -0.39, 1926, -0.12, BLUE]],
	texts: [
		{text: 'Re-Bpy', x: 2103, y: 0.42, align: 'left', size: 9.5},
		{text: 'Re* formation', x: 1950, y: -0.45, color: BLUE, size: 10}
	]
});

spectrumChart('chartG', reTpBpyIR, {
	min: -0.5, max: 0.5, ticks: smallTicks, xHeight: 28, zero: '#111',
	arrows: [[1959, -0.29, 2045, -0.03, BLUE], [1959, -0.29, 1924, -0.03, BLUE]],
	texts: [
		{text: 'Re-TpBpy', x: 1836, y: 0.43, align: 'right', size: 9.5},
		{text: 'Re* formation', x: 1905, y: -0.36, color: BLUE, size: 10}
	]
});

kineticChart('chartH', [
	points(hDelay, hK1, '#3d5fc8'),
	points(hDelay, hK2, '#e84a42'),
	points(hReBpyDelay, hReBpy, '#3a9a48'),
	...fitLines(hFitDelay, hK1Fit, '#3d5fc8'),
	...fitLines(hFitDelay, hK2Fit, '#e8383a'),
	...fitLines(hFitDelay, hDiffFit, '#f5861f'),
	...fitLines(hReBpyFitDelay, hReBpyFit, '#2e8a3c')
], {
	min: -0.65, max: 1.135, ticks: [-0.5, 0, 0.5, 1], title: 'ΔA (mOD)', xMin: -1, xHeight: 28, padTop: 8,
	breakAt: BREAK, zero: '#888',
	keys: [
		{marker: 'circle', x1: 6.25, tx: 7.5, y: 0.73, color: '#3d5fc8', text: 'k₁ (1850 cm⁻¹)', size: 8.5},
		{marker: 'circle', x1: 6.25, tx: 7.5, y: 0.6, color: '#e84a42', text: 'k₂ (2040 cm⁻¹)', size: 8.5},
		{x1: 3.9, x2: 6.0, tx: 7.5, y: 0.39, color: '#f5861f', width: 1.6, text: '(k₂-k₁*1.9)*2', size: 8.5}
	],
	arrows: [[1.6, 0.02, 0.3, -0.11], [7.8, -0.15, 6.1, -0.11]],
	texts: [
		{text: 'Re-TpBpy 400 nm exc.', x: 7.6, y: 1.0, size: 10},
		{text: '0.8 ps', x: 3.1, y: 0.11, size: 10},
		{text: '26 ps', x: 9.3, y: -0.16, size: 10},
		{text: 'ReBpy', x: 10.9, y: -0.5, color: '#2e8a3c', size: 10}
	]
});
</script>
</body>
</html>
